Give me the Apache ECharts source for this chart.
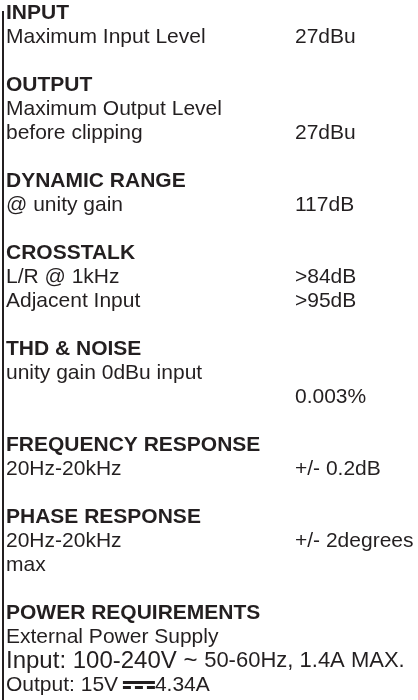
<!DOCTYPE html>
<html>
<head>
<meta charset="utf-8">
<script src="https://cdn.jsdelivr.net/npm/echarts@6/dist/echarts.min.js"></script>
<style>
  html, body { margin: 0; padding: 0; background: #fff; }
  #chart { width: 418px; height: 700px; }
</style>
</head>
<body>
<div id="chart"></div>
<script>
// section headings
const sectionTitles = [
  'INPUT', 'OUTPUT', 'DYNAMIC RANGE', 'CROSSTALK',
  'THD & NOISE', 'FREQUENCY RESPONSE', 'PHASE RESPONSE', 'POWER REQUIREMENTS'
];
// left column text, one list per section
const rowLabels = [
  ['Maximum Input Level'],
  ['Maximum Output Level', 'before clipping'],
  ['@ unity gain'],
  ['L/R @ 1kHz', 'Adjacent Input'],
  ['unity gain 0dBu input', ''],
  ['20Hz-20kHz'],
  ['20Hz-20kHz', 'max'],
  ['External Power Supply']
];
// right column values, same shape as rowLabels
const rowValues = [
  ['27dBu'],
  ['', '27dBu'],
  ['117dB'],
  ['>84dB', '>95dB'],
  ['', '0.003%'],
  ['+/- 0.2dB'],
  ['+/- 2degrees', ''],
  ['']
];
// power supply lines (mixed sizes / DC symbol)
const powerInput = ['Input: 100-240V ~ ', '50-60Hz, 1.4A MAX.'];
const powerOutput = ['Output: 15V ', '4.34A'];

const FONT = '"Liberation Sans", Arial, sans-serif';
const COLOR = '#231f20';
const X_LABEL = 6;
const X_VALUE = 295;
const TOP = 20;      // baseline of first line
const STEP = 24;     // line pitch
const MID = 7;       // baseline -> middle offset

const chart = echarts.init(document.getElementById('chart'));

function measure(text, size) {
  const ctx = document.createElement('canvas').getContext('2d');
  ctx.font = size + 'px ' + FONT;
  return ctx.measureText(text).width;
}

function txt(x, line, text, opts) {
  opts = opts || {};
  return {
    type: 'text',
    x: x,
    y: TOP + line * STEP - MID,
    style: {
      text: text,
      fill: COLOR,
      font: (opts.bold ? 'bold ' : '') + (opts.size || 21) + 'px ' + FONT,
      verticalAlign: 'middle',
      align: 'left'
    }
  };
}

const elements = [];
// left rule
elements.push({
  type: 'line',
  shape: { x1: 3, y1: 11, x2: 3, y2: 700 },
  style: { stroke: COLOR, lineWidth: 2 }
});

let line = 0;
sectionTitles.forEach(function (title, i) {
  elements.push(txt(X_LABEL, line, title, { bold: true }));
  line++;
  rowLabels[i].forEach(function (label, j) {
    if (label) elements.push(txt(X_LABEL, line, label));
    if (rowValues[i][j]) elements.push(txt(X_VALUE, line, rowValues[i][j]));
    line++;
  });
  if (i < sectionTitles.length - 1) line++;
});

// Input: mixed font sizes
const inW = measure(powerInput[0], 24);
elements.push(txt(X_LABEL, line, powerInput[0], { size: 24 }));
elements.push(txt(X_LABEL + inW, line, powerInput[1], { size: 22 }));
line++;

// Output with DC symbol (solid bar over dashed bar)
const outW = measure(powerOutput[0], 21);
const symX = X_LABEL + outW - 1;
const symW = 32;
const baseY = TOP + line * STEP;
elements.push(txt(X_LABEL, line, powerOutput[0]));
elements.push({
  type: 'rect',
  shape: { x: symX, y: baseY - 11, width: symW, height: 3 },
  style: { fill: COLOR }
});
for (let k = 0; k < 3; k++) {
  elements.push({
    type: 'rect',
    shape: { x: symX + k * 12, y: baseY - 6, width: 8, height: 3 },
    style: { fill: COLOR }
  });
}
elements.push(txt(symX + symW, line, powerOutput[1]));

chart.setOption({
  backgroundColor: '#ffffff',
  animation: false,
  graphic: { elements: elements }
});
</script>
</body>
</html>
